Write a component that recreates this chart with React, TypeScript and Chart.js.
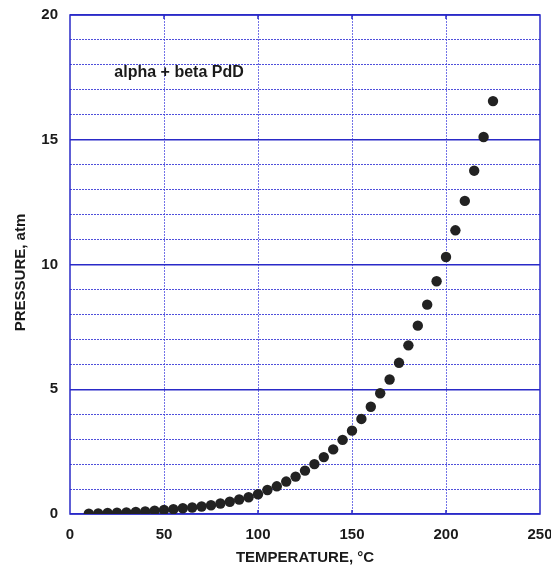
import React, { useEffect, useRef } from "react";
import { Chart, registerables } from "chart.js";

Chart.register(...registerables);

const temperatures: number[] = [
  10, 15, 20, 25, 30, 35, 40, 45, 50, 55, 60, 65, 70, 75, 80, 85, 90, 95, 100, 105,
  110, 115, 120, 125, 130, 135, 140, 145, 150, 155, 160, 165, 170, 175, 180, 185,
  190, 195, 200, 205, 210, 215, 220, 225,
];
const pressures: number[] = [
  0.01, 0.02, 0.04, 0.05, 0.06, 0.08, 0.1, 0.13, 0.16, 0.19, 0.23, 0.26, 0.3, 0.35,
  0.42, 0.49, 0.58, 0.67, 0.79, 0.96, 1.11, 1.3, 1.5, 1.74, 2.0, 2.28, 2.59, 2.97,
  3.34, 3.81, 4.3, 4.84, 5.39, 6.06, 6.76, 7.55, 8.39, 9.33, 10.3, 11.37, 12.55,
  13.76, 15.11, 16.55,
];
const xTickValues: number[] = [0, 50, 100, 150, 200, 250];
const yTickLabels: number[] = [0, 5, 10, 15, 20];
const annotationText = "alpha + beta PdD";
const annotationAt = { x: 58, y: 17.7 };
const xTitle = "TEMPERATURE, °C";
const yTitle = "PRESSURE, atm";

const FONT = 'Arial, "Liberation Sans", Helvetica, sans-serif';
const MAJOR = "#2a2ac8";
const MINOR = "rgba(60,60,215,0.9)";
const VMINOR = "rgba(80,80,225,0.8)";
const TEXT = "#1a1a1a";

const framePlugin = {
  id: "frame",
  beforeDatasetsDraw(chart: any) {
    const { ctx, chartArea } = chart;
    const xs = chart.scales.x;
    ctx.save();
    ctx.strokeStyle = MAJOR;
    ctx.lineWidth = 1.5;
    ctx.setLineDash([]);
    ctx.strokeRect(chartArea.left, chartArea.top, chartArea.right - chartArea.left, chartArea.bottom - chartArea.top);
    for (const v of xTickValues) {
      if (v <= 0 || v >= 250) continue;
      const px = xs.getPixelForValue(v);
      ctx.beginPath();
      ctx.moveTo(px, chartArea.bottom);
      ctx.lineTo(px, chartArea.bottom - 4);
      ctx.moveTo(px, chartArea.top);
      ctx.lineTo(px, chartArea.top + 4);
      ctx.stroke();
    }
    ctx.restore();
  },
  afterDraw(chart: any) {
    const { ctx, chartArea } = chart;
    const px = chart.scales.x.getPixelForValue(annotationAt.x);
    const py = chart.scales.y.getPixelForValue(annotationAt.y);
    ctx.save();
    ctx.font = `bold 16px ${FONT}`;
    ctx.fillStyle = TEXT;
    ctx.textAlign = "center";
    ctx.textBaseline = "middle";
    ctx.fillText(annotationText, px, py);
    // y-axis title, slightly below the plot's centre as in the original
    ctx.font = `bold 15px ${FONT}`;
    ctx.translate(21, (chartArea.top + chartArea.bottom) / 2 + 8);
    ctx.rotate(-Math.PI / 2);
    ctx.fillText(yTitle, 0, 0);
    ctx.restore();
  },
};

export default function App() {
  const ref = useRef<HTMLCanvasElement | null>(null);

  useEffect(() => {
    if (!ref.current) return;
    const chart = new Chart(ref.current, {
      type: "scatter",
      data: {
        datasets: [
          {
            label: "alpha + beta PdD",
            data: temperatures.map((t, i) => ({ x: t, y: pressures[i] })),
            pointRadius: 5.2,
            pointHoverRadius: 5.2,
            pointBackgroundColor: "#222222",
            pointBorderWidth: 0,
            showLine: false,
          },
        ],
      },
      options: {
        responsive: false,
        animation: false,
        events: [],
        layout: { padding: { left: 0, right: 11, top: 15, bottom: 0 } },
        plugins: { legend: { display: false }, tooltip: { enabled: false }, title: { display: false } },
        scales: {
          x: {
            type: "linear",
            min: 0,
            max: 250,
            afterFit: (s: any) => {
              s.height = 53;
              s.paddingLeft = 0;
              s.paddingRight = 0;
            },
            afterBuildTicks: (s: any) => {
              s.ticks = xTickValues.map((v) => ({ value: v }));
            },
            ticks: {
              padding: 12,
              color: TEXT,
              font: { family: FONT, size: 15, weight: "bold" },
              maxRotation: 0,
            },
            grid: {
              drawTicks: false,
              color: (c: any) => (c.tick && (c.tick.value === 0 || c.tick.value === 250) ? "rgba(0,0,0,0)" : VMINOR),
              lineWidth: 1,
            },
            border: { display: false, dash: (c: any) => (c.tick ? [2, 1] : []) },
            title: {
              display: true,
              text: xTitle,
              color: TEXT,
              font: { family: FONT, size: 15, weight: "bold", lineHeight: 1.2 },
              padding: { top: 0, bottom: 0 },
            },
          },
          y: {
            type: "linear",
            min: 0,
            max: 20,
            afterFit: (s: any) => {
              s.width = 70;
              s.paddingTop = 0;
              s.paddingBottom = 0;
            },
            ticks: {
              stepSize: 1,
              padding: 12,
              color: TEXT,
              font: { family: FONT, size: 15, weight: "bold" },
              callback: (v: any) => (yTickLabels.includes(Number(v)) ? String(v) : ""),
            },
            grid: {
              drawTicks: false,
              color: (c: any) => (c.tick && c.tick.value % 5 === 0 ? MAJOR : MINOR),
              lineWidth: (c: any) => (c.tick && c.tick.value % 5 === 0 ? 1.5 : 1),
            },
            border: {
              display: false,
              dash: (c: any) => (c.tick && c.tick.value % 5 !== 0 ? [2, 1] : []),
            },
            title: { display: false },
          },
        },
      },
      plugins: [framePlugin],
    } as any);
    return () => chart.destroy();
  }, []);

  return (
    <div style={{ position: "absolute", left: 0, top: 0, width: 551, height: 567, background: "#ffffff" }}>
      <canvas ref={ref} width={551} height={567} style={{ display: "block" }} />
    </div>
  );
}
